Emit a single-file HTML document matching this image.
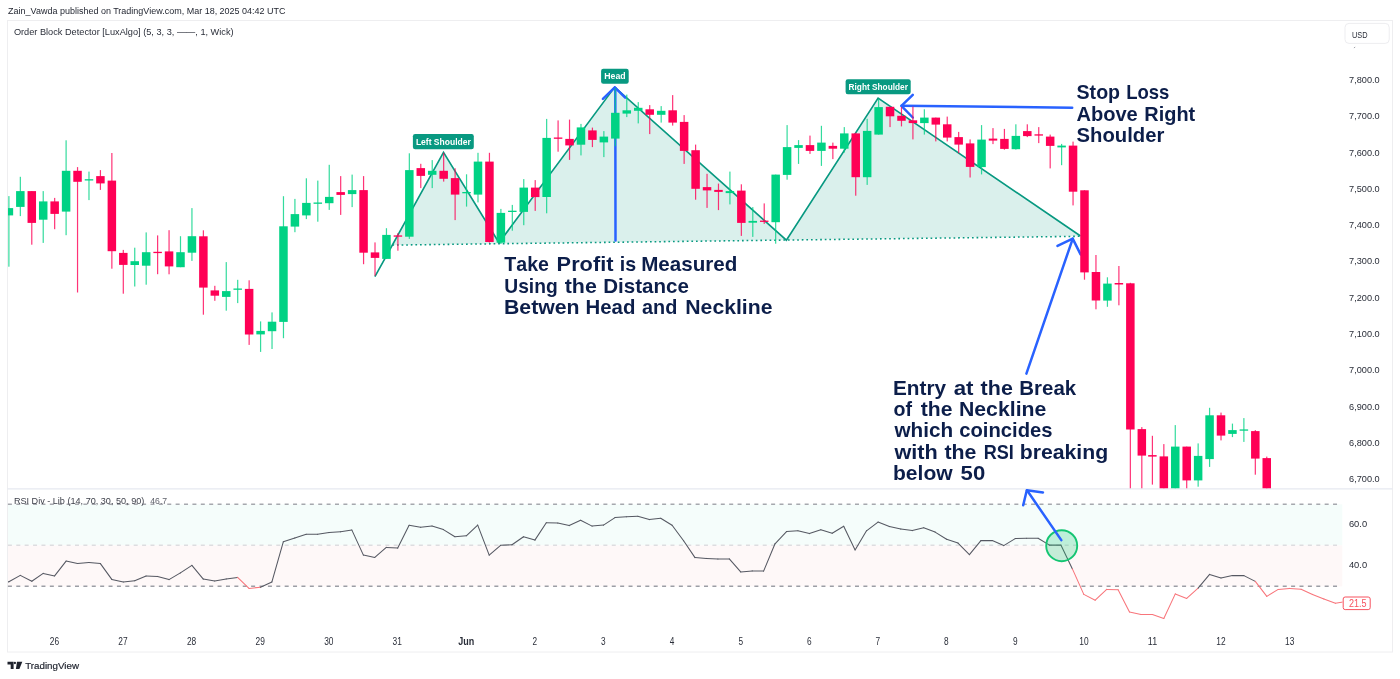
<!DOCTYPE html>
<html><head><meta charset="utf-8"><title>Chart</title>
<style>html,body{margin:0;padding:0;background:#fff;}body{width:1400px;height:679px;overflow:hidden;}svg{display:block;will-change:transform;}text{font-family:"Liberation Sans",sans-serif;}</style>
</head><body>
<svg width="1400" height="679" viewBox="0 0 1400 679">
<rect width="1400" height="679" fill="#fff"/>
<defs><clipPath id="pc"><rect x="8" y="21" width="1384.5" height="467.2"/></clipPath>
<clipPath id="rc"><rect x="8" y="489" width="1334.5" height="150"/></clipPath></defs>
<g fill="none" stroke="#eeeef0" stroke-width="1">
<rect x="7.5" y="20.5" width="1385" height="631.5"/>
<line x1="7.5" y1="488.8" x2="1392.5" y2="488.8" stroke="#e6e9f0" stroke-width="1.3"/>
</g>
<rect x="8" y="504.3" width="1334.3" height="41" fill="#f5fdfb"/>
<rect x="8" y="545.3" width="1334.3" height="41.1" fill="#fef8f8"/>
<g fill="none" stroke-width="1.5" stroke-dasharray="4.0 4.387">
<line x1="7.9" y1="504.2" x2="1338.5" y2="504.2" stroke="#a6a8ae"/>
<line x1="7.9" y1="545.3" x2="1338.5" y2="545.3" stroke="#dddde0"/>
<line x1="7.9" y1="586.3" x2="1338.5" y2="586.3" stroke="#9c9ea5"/>
</g>
<g clip-path="url(#pc)">
<path d="M392.4,245.1 L443.5,152.4 L499.0,242.8 L614.7,87.1 L786.4,240.2 L878.1,98.1 L1080.5,236.0 Z" fill="#089981" fill-opacity="0.15"/>
<polyline points="374.9,276.7 443.5,152.4 499.0,242.8 614.7,87.1 786.4,240.2 878.1,98.1 1080.5,236.0" fill="none" stroke="#089981" stroke-width="1.65" stroke-linejoin="miter"/>
<line x1="392.4" y1="245.1" x2="1080.5" y2="236.3" stroke="#089981" stroke-width="1.55" stroke-dasharray="1.7 2.9"/>
<g fill="none" stroke="#2962ff" stroke-width="2.5" stroke-linecap="round" stroke-linejoin="round">
<path d="M615.5,240.5 L615.3,88"/>
<path d="M602.9,98.8 L614.8,87.3 L625.2,97.6"/>
<path d="M1072.2,107.7 L901.6,105.8"/>
<path d="M912.8,94.9 L901.4,105.8 L912.8,117.5"/>
<path d="M1026.4,373.6 L1072.7,238.8"/>
<path d="M1057.5,245.9 L1072.7,238.6 L1080.6,254.4"/>
</g>
<g>
<rect x="8.30" y="196.1" width="1.2" height="70.6" fill="#00d284" fill-opacity="0.8"/>
<rect x="4.65" y="208.1" width="8.5" height="7.3" fill="#00d284"/>
<rect x="19.74" y="176.8" width="1.2" height="39.3" fill="#00d284" fill-opacity="0.8"/>
<rect x="16.09" y="191.1" width="8.5" height="15.8" fill="#00d284"/>
<rect x="31.18" y="191.1" width="1.2" height="53.6" fill="#ff0055" fill-opacity="0.8"/>
<rect x="27.53" y="191.1" width="8.5" height="31.8" fill="#ff0055"/>
<rect x="42.62" y="191.1" width="1.2" height="51.8" fill="#00d284" fill-opacity="0.8"/>
<rect x="38.97" y="201.4" width="8.5" height="18.3" fill="#00d284"/>
<rect x="54.06" y="197.9" width="1.2" height="31.3" fill="#ff0055" fill-opacity="0.8"/>
<rect x="50.41" y="201.4" width="8.5" height="12.5" fill="#ff0055"/>
<rect x="65.50" y="140.3" width="1.2" height="94.9" fill="#00d284" fill-opacity="0.8"/>
<rect x="61.85" y="170.8" width="8.5" height="40.8" fill="#00d284"/>
<rect x="76.94" y="167.1" width="1.2" height="125.4" fill="#ff0055" fill-opacity="0.8"/>
<rect x="73.29" y="170.8" width="8.5" height="11.0" fill="#ff0055"/>
<rect x="88.38" y="171.6" width="1.2" height="28.5" fill="#00d284" fill-opacity="0.8"/>
<rect x="84.73" y="179.2" width="8.5" height="1.3" fill="#00d284"/>
<rect x="99.82" y="170.1" width="1.2" height="19.8" fill="#ff0055" fill-opacity="0.8"/>
<rect x="96.17" y="176.1" width="8.5" height="7.3" fill="#ff0055"/>
<rect x="111.26" y="153.0" width="1.2" height="115.7" fill="#ff0055" fill-opacity="0.8"/>
<rect x="107.61" y="180.6" width="8.5" height="70.6" fill="#ff0055"/>
<rect x="122.70" y="249.9" width="1.2" height="43.8" fill="#ff0055" fill-opacity="0.8"/>
<rect x="119.05" y="252.9" width="8.5" height="12.0" fill="#ff0055"/>
<rect x="134.14" y="247.7" width="1.2" height="38.8" fill="#00d284" fill-opacity="0.8"/>
<rect x="130.49" y="261.2" width="8.5" height="3.8" fill="#00d284"/>
<rect x="145.58" y="232.4" width="1.2" height="52.3" fill="#00d284" fill-opacity="0.8"/>
<rect x="141.93" y="252.2" width="8.5" height="13.5" fill="#00d284"/>
<rect x="157.02" y="235.4" width="1.2" height="38.8" fill="#ff0055" fill-opacity="0.8"/>
<rect x="153.37" y="251.8" width="8.5" height="1.3" fill="#ff0055"/>
<rect x="168.46" y="230.2" width="1.2" height="44.1" fill="#ff0055" fill-opacity="0.8"/>
<rect x="164.81" y="251.4" width="8.5" height="15.0" fill="#ff0055"/>
<rect x="179.90" y="236.2" width="1.2" height="31.0" fill="#00d284" fill-opacity="0.8"/>
<rect x="176.25" y="252.2" width="8.5" height="15.0" fill="#00d284"/>
<rect x="191.34" y="208.1" width="1.2" height="52.8" fill="#00d284" fill-opacity="0.8"/>
<rect x="187.69" y="236.2" width="8.5" height="16.5" fill="#00d284"/>
<rect x="202.78" y="230.3" width="1.2" height="84.4" fill="#ff0055" fill-opacity="0.8"/>
<rect x="199.13" y="236.3" width="8.5" height="51.3" fill="#ff0055"/>
<rect x="214.22" y="285.8" width="1.2" height="15.0" fill="#ff0055" fill-opacity="0.8"/>
<rect x="210.57" y="290.4" width="8.5" height="5.3" fill="#ff0055"/>
<rect x="225.66" y="262.1" width="1.2" height="48.6" fill="#00d284" fill-opacity="0.8"/>
<rect x="222.01" y="291.1" width="8.5" height="5.8" fill="#00d284"/>
<rect x="237.10" y="279.8" width="1.2" height="23.3" fill="#00d284" fill-opacity="0.8"/>
<rect x="233.45" y="288.5" width="8.5" height="1.3" fill="#00d284"/>
<rect x="248.54" y="280.3" width="1.2" height="64.6" fill="#ff0055" fill-opacity="0.8"/>
<rect x="244.89" y="288.9" width="8.5" height="45.6" fill="#ff0055"/>
<rect x="259.99" y="321.4" width="1.2" height="30.5" fill="#00d284" fill-opacity="0.8"/>
<rect x="256.34" y="330.9" width="8.5" height="3.5" fill="#00d284"/>
<rect x="271.43" y="312.4" width="1.2" height="36.6" fill="#00d284" fill-opacity="0.8"/>
<rect x="267.78" y="321.7" width="8.5" height="9.5" fill="#00d284"/>
<rect x="282.87" y="196.2" width="1.2" height="142.0" fill="#00d284" fill-opacity="0.8"/>
<rect x="279.22" y="226.3" width="8.5" height="95.6" fill="#00d284"/>
<rect x="294.31" y="198.9" width="1.2" height="33.3" fill="#00d284" fill-opacity="0.8"/>
<rect x="290.66" y="214.1" width="8.5" height="12.5" fill="#00d284"/>
<rect x="305.76" y="178.3" width="1.2" height="40.8" fill="#00d284" fill-opacity="0.8"/>
<rect x="302.11" y="202.9" width="8.5" height="12.5" fill="#00d284"/>
<rect x="317.20" y="180.6" width="1.2" height="41.1" fill="#00d284" fill-opacity="0.8"/>
<rect x="313.55" y="202.5" width="8.5" height="1.3" fill="#00d284"/>
<rect x="328.64" y="164.8" width="1.2" height="45.1" fill="#00d284" fill-opacity="0.8"/>
<rect x="324.99" y="196.9" width="8.5" height="6.3" fill="#00d284"/>
<rect x="340.08" y="176.1" width="1.2" height="38.8" fill="#ff0055" fill-opacity="0.8"/>
<rect x="336.43" y="192.1" width="8.5" height="2.8" fill="#ff0055"/>
<rect x="351.53" y="174.6" width="1.2" height="32.5" fill="#00d284" fill-opacity="0.8"/>
<rect x="347.88" y="190.1" width="8.5" height="4.0" fill="#00d284"/>
<rect x="362.97" y="176.1" width="1.2" height="88.1" fill="#ff0055" fill-opacity="0.8"/>
<rect x="359.32" y="190.1" width="8.5" height="62.6" fill="#ff0055"/>
<rect x="374.41" y="242.4" width="1.2" height="33.3" fill="#ff0055" fill-opacity="0.8"/>
<rect x="370.76" y="252.4" width="8.5" height="5.5" fill="#ff0055"/>
<rect x="385.85" y="228.2" width="1.2" height="30.8" fill="#00d284" fill-opacity="0.8"/>
<rect x="382.20" y="234.9" width="8.5" height="24.0" fill="#00d284"/>
<rect x="397.30" y="233.2" width="1.2" height="17.5" fill="#ff0055" fill-opacity="0.8"/>
<rect x="393.65" y="235.4" width="8.5" height="1.3" fill="#ff0055"/>
<rect x="408.74" y="153.3" width="1.2" height="85.6" fill="#00d284" fill-opacity="0.8"/>
<rect x="405.09" y="170.1" width="8.5" height="66.6" fill="#00d284"/>
<rect x="420.18" y="163.8" width="1.2" height="24.3" fill="#ff0055" fill-opacity="0.8"/>
<rect x="416.53" y="168.1" width="8.5" height="7.8" fill="#ff0055"/>
<rect x="431.62" y="160.1" width="1.2" height="28.0" fill="#00d284" fill-opacity="0.8"/>
<rect x="427.97" y="170.8" width="8.5" height="4.0" fill="#00d284"/>
<rect x="443.07" y="152.8" width="1.2" height="28.8" fill="#ff0055" fill-opacity="0.8"/>
<rect x="439.42" y="170.8" width="8.5" height="8.0" fill="#ff0055"/>
<rect x="454.51" y="168.3" width="1.2" height="51.8" fill="#ff0055" fill-opacity="0.8"/>
<rect x="450.86" y="178.1" width="8.5" height="16.5" fill="#ff0055"/>
<rect x="465.95" y="174.3" width="1.2" height="32.3" fill="#00d284" fill-opacity="0.8"/>
<rect x="462.30" y="192.0" width="8.5" height="1.3" fill="#00d284"/>
<rect x="477.39" y="152.8" width="1.2" height="49.6" fill="#00d284" fill-opacity="0.8"/>
<rect x="473.74" y="161.6" width="8.5" height="33.0" fill="#00d284"/>
<rect x="488.84" y="152.8" width="1.2" height="89.9" fill="#ff0055" fill-opacity="0.8"/>
<rect x="485.19" y="161.6" width="8.5" height="80.4" fill="#ff0055"/>
<rect x="500.28" y="208.9" width="1.2" height="35.1" fill="#00d284" fill-opacity="0.8"/>
<rect x="496.63" y="212.9" width="8.5" height="29.8" fill="#00d284"/>
<rect x="511.72" y="204.9" width="1.2" height="25.8" fill="#00d284" fill-opacity="0.8"/>
<rect x="508.07" y="210.7" width="8.5" height="1.3" fill="#00d284"/>
<rect x="523.16" y="179.1" width="1.2" height="46.1" fill="#00d284" fill-opacity="0.8"/>
<rect x="519.51" y="187.6" width="8.5" height="24.3" fill="#00d284"/>
<rect x="534.61" y="180.1" width="1.2" height="30.8" fill="#ff0055" fill-opacity="0.8"/>
<rect x="530.96" y="187.6" width="8.5" height="9.5" fill="#ff0055"/>
<rect x="546.05" y="118.9" width="1.2" height="94.4" fill="#00d284" fill-opacity="0.8"/>
<rect x="542.40" y="137.9" width="8.5" height="59.1" fill="#00d284"/>
<rect x="557.49" y="120.4" width="1.2" height="31.3" fill="#ff0055" fill-opacity="0.8"/>
<rect x="553.84" y="137.5" width="8.5" height="1.3" fill="#ff0055"/>
<rect x="568.93" y="119.6" width="1.2" height="40.3" fill="#ff0055" fill-opacity="0.8"/>
<rect x="565.28" y="138.9" width="8.5" height="6.5" fill="#ff0055"/>
<rect x="580.38" y="123.9" width="1.2" height="31.5" fill="#00d284" fill-opacity="0.8"/>
<rect x="576.73" y="127.4" width="8.5" height="17.3" fill="#00d284"/>
<rect x="591.82" y="127.6" width="1.2" height="19.5" fill="#ff0055" fill-opacity="0.8"/>
<rect x="588.17" y="130.4" width="8.5" height="9.5" fill="#ff0055"/>
<rect x="603.26" y="131.1" width="1.2" height="26.0" fill="#00d284" fill-opacity="0.8"/>
<rect x="599.61" y="136.6" width="8.5" height="5.8" fill="#00d284"/>
<rect x="614.71" y="88.1" width="1.2" height="58.1" fill="#00d284" fill-opacity="0.8"/>
<rect x="611.06" y="112.8" width="8.5" height="25.8" fill="#00d284"/>
<rect x="626.18" y="94.6" width="1.2" height="22.5" fill="#00d284" fill-opacity="0.8"/>
<rect x="622.53" y="110.3" width="8.5" height="3.3" fill="#00d284"/>
<rect x="637.65" y="102.1" width="1.2" height="21.3" fill="#00d284" fill-opacity="0.8"/>
<rect x="634.00" y="107.8" width="8.5" height="3.0" fill="#00d284"/>
<rect x="649.12" y="105.1" width="1.2" height="29.0" fill="#ff0055" fill-opacity="0.8"/>
<rect x="645.47" y="109.3" width="8.5" height="5.5" fill="#ff0055"/>
<rect x="660.59" y="106.1" width="1.2" height="16.5" fill="#00d284" fill-opacity="0.8"/>
<rect x="656.94" y="110.8" width="8.5" height="4.0" fill="#00d284"/>
<rect x="672.06" y="95.1" width="1.2" height="30.5" fill="#ff0055" fill-opacity="0.8"/>
<rect x="668.41" y="110.3" width="8.5" height="12.3" fill="#ff0055"/>
<rect x="683.53" y="115.1" width="1.2" height="48.8" fill="#ff0055" fill-opacity="0.8"/>
<rect x="679.88" y="121.9" width="8.5" height="29.0" fill="#ff0055"/>
<rect x="695.00" y="144.6" width="1.2" height="55.1" fill="#ff0055" fill-opacity="0.8"/>
<rect x="691.35" y="150.2" width="8.5" height="38.6" fill="#ff0055"/>
<rect x="706.44" y="173.8" width="1.2" height="34.1" fill="#ff0055" fill-opacity="0.8"/>
<rect x="702.79" y="187.1" width="8.5" height="3.3" fill="#ff0055"/>
<rect x="717.88" y="183.6" width="1.2" height="26.5" fill="#ff0055" fill-opacity="0.8"/>
<rect x="714.23" y="189.9" width="8.5" height="2.0" fill="#ff0055"/>
<rect x="729.31" y="171.6" width="1.2" height="32.8" fill="#00d284" fill-opacity="0.8"/>
<rect x="725.66" y="191.1" width="8.5" height="2.0" fill="#00d284"/>
<rect x="740.75" y="184.3" width="1.2" height="51.6" fill="#ff0055" fill-opacity="0.8"/>
<rect x="737.10" y="190.6" width="8.5" height="32.3" fill="#ff0055"/>
<rect x="752.19" y="207.1" width="1.2" height="29.8" fill="#00d284" fill-opacity="0.8"/>
<rect x="748.54" y="220.9" width="8.5" height="1.8" fill="#00d284"/>
<rect x="763.63" y="203.4" width="1.2" height="20.5" fill="#ff0055" fill-opacity="0.8"/>
<rect x="759.98" y="220.6" width="8.5" height="1.3" fill="#ff0055"/>
<rect x="775.07" y="174.6" width="1.2" height="69.1" fill="#00d284" fill-opacity="0.8"/>
<rect x="771.42" y="174.6" width="8.5" height="47.6" fill="#00d284"/>
<rect x="786.50" y="125.1" width="1.2" height="54.6" fill="#00d284" fill-opacity="0.8"/>
<rect x="782.85" y="147.1" width="8.5" height="27.8" fill="#00d284"/>
<rect x="797.94" y="140.1" width="1.2" height="23.8" fill="#00d284" fill-opacity="0.8"/>
<rect x="794.29" y="145.1" width="8.5" height="2.8" fill="#00d284"/>
<rect x="809.38" y="135.6" width="1.2" height="18.3" fill="#ff0055" fill-opacity="0.8"/>
<rect x="805.73" y="145.1" width="8.5" height="5.8" fill="#ff0055"/>
<rect x="820.82" y="125.8" width="1.2" height="40.1" fill="#00d284" fill-opacity="0.8"/>
<rect x="817.17" y="142.6" width="8.5" height="8.3" fill="#00d284"/>
<rect x="832.26" y="142.6" width="1.2" height="16.5" fill="#ff0055" fill-opacity="0.8"/>
<rect x="828.61" y="145.9" width="8.5" height="2.8" fill="#ff0055"/>
<rect x="843.69" y="127.1" width="1.2" height="25.5" fill="#00d284" fill-opacity="0.8"/>
<rect x="840.04" y="133.4" width="8.5" height="15.3" fill="#00d284"/>
<rect x="855.13" y="132.6" width="1.2" height="63.1" fill="#ff0055" fill-opacity="0.8"/>
<rect x="851.48" y="133.4" width="8.5" height="43.8" fill="#ff0055"/>
<rect x="866.57" y="118.8" width="1.2" height="66.1" fill="#00d284" fill-opacity="0.8"/>
<rect x="862.92" y="130.9" width="8.5" height="46.3" fill="#00d284"/>
<rect x="878.01" y="98.8" width="1.2" height="35.8" fill="#00d284" fill-opacity="0.8"/>
<rect x="874.36" y="107.1" width="8.5" height="27.5" fill="#00d284"/>
<rect x="889.44" y="106.8" width="1.2" height="20.3" fill="#ff0055" fill-opacity="0.8"/>
<rect x="885.79" y="106.8" width="8.5" height="9.5" fill="#ff0055"/>
<rect x="900.88" y="107.1" width="1.2" height="19.3" fill="#ff0055" fill-opacity="0.8"/>
<rect x="897.23" y="115.8" width="8.5" height="5.0" fill="#ff0055"/>
<rect x="912.32" y="106.6" width="1.2" height="32.8" fill="#ff0055" fill-opacity="0.8"/>
<rect x="908.67" y="120.3" width="8.5" height="2.8" fill="#ff0055"/>
<rect x="923.76" y="109.3" width="1.2" height="25.3" fill="#00d284" fill-opacity="0.8"/>
<rect x="920.11" y="117.6" width="8.5" height="5.5" fill="#00d284"/>
<rect x="935.20" y="117.6" width="1.2" height="23.8" fill="#ff0055" fill-opacity="0.8"/>
<rect x="931.55" y="117.6" width="8.5" height="7.0" fill="#ff0055"/>
<rect x="946.63" y="116.6" width="1.2" height="24.8" fill="#ff0055" fill-opacity="0.8"/>
<rect x="942.98" y="124.3" width="8.5" height="13.3" fill="#ff0055"/>
<rect x="958.07" y="131.9" width="1.2" height="21.3" fill="#ff0055" fill-opacity="0.8"/>
<rect x="954.42" y="137.1" width="8.5" height="7.5" fill="#ff0055"/>
<rect x="969.51" y="139.4" width="1.2" height="38.1" fill="#ff0055" fill-opacity="0.8"/>
<rect x="965.86" y="143.4" width="8.5" height="23.5" fill="#ff0055"/>
<rect x="980.95" y="125.1" width="1.2" height="49.3" fill="#00d284" fill-opacity="0.8"/>
<rect x="977.30" y="139.6" width="8.5" height="27.5" fill="#00d284"/>
<rect x="992.39" y="128.1" width="1.2" height="16.0" fill="#ff0055" fill-opacity="0.8"/>
<rect x="988.74" y="138.6" width="8.5" height="2.0" fill="#ff0055"/>
<rect x="1003.82" y="128.9" width="1.2" height="20.8" fill="#ff0055" fill-opacity="0.8"/>
<rect x="1000.17" y="138.9" width="8.5" height="10.0" fill="#ff0055"/>
<rect x="1015.26" y="124.3" width="1.2" height="25.3" fill="#00d284" fill-opacity="0.8"/>
<rect x="1011.61" y="135.9" width="8.5" height="13.3" fill="#00d284"/>
<rect x="1026.70" y="124.3" width="1.2" height="12.8" fill="#ff0055" fill-opacity="0.8"/>
<rect x="1023.05" y="131.1" width="8.5" height="5.0" fill="#ff0055"/>
<rect x="1038.14" y="127.1" width="1.2" height="16.0" fill="#ff0055" fill-opacity="0.8"/>
<rect x="1034.49" y="134.3" width="8.5" height="1.3" fill="#ff0055"/>
<rect x="1049.58" y="134.6" width="1.2" height="33.8" fill="#ff0055" fill-opacity="0.8"/>
<rect x="1045.93" y="136.6" width="8.5" height="9.3" fill="#ff0055"/>
<rect x="1061.01" y="143.9" width="1.2" height="21.3" fill="#00d284" fill-opacity="0.8"/>
<rect x="1057.36" y="145.6" width="8.5" height="1.8" fill="#00d284"/>
<rect x="1072.45" y="141.6" width="1.2" height="63.8" fill="#ff0055" fill-opacity="0.8"/>
<rect x="1068.80" y="145.6" width="8.5" height="46.1" fill="#ff0055"/>
<rect x="1083.89" y="190.3" width="1.2" height="89.4" fill="#ff0055" fill-opacity="0.8"/>
<rect x="1080.24" y="190.3" width="8.5" height="82.1" fill="#ff0055"/>
<rect x="1095.36" y="255.0" width="1.2" height="54.3" fill="#ff0055" fill-opacity="0.8"/>
<rect x="1091.71" y="272.0" width="8.5" height="28.5" fill="#ff0055"/>
<rect x="1106.82" y="277.3" width="1.2" height="29.5" fill="#00d284" fill-opacity="0.8"/>
<rect x="1103.17" y="283.6" width="8.5" height="17.0" fill="#00d284"/>
<rect x="1118.29" y="266.0" width="1.2" height="39.3" fill="#ff0055" fill-opacity="0.8"/>
<rect x="1114.63" y="283.0" width="8.5" height="1.5" fill="#ff0055"/>
<rect x="1129.75" y="282.8" width="1.2" height="207.6" fill="#ff0055" fill-opacity="0.8"/>
<rect x="1126.10" y="283.3" width="8.5" height="146.2" fill="#ff0055"/>
<rect x="1141.22" y="427.1" width="1.2" height="63.1" fill="#ff0055" fill-opacity="0.8"/>
<rect x="1137.57" y="429.1" width="8.5" height="26.5" fill="#ff0055"/>
<rect x="1151.80" y="435.8" width="1.2" height="48.8" fill="#ff0055" fill-opacity="0.8"/>
<rect x="1148.15" y="455.1" width="8.5" height="1.5" fill="#ff0055"/>
<rect x="1163.24" y="444.1" width="1.2" height="46.1" fill="#ff0055" fill-opacity="0.8"/>
<rect x="1159.59" y="456.4" width="8.5" height="33.8" fill="#ff0055"/>
<rect x="1174.67" y="425.1" width="1.2" height="65.1" fill="#00d284" fill-opacity="0.8"/>
<rect x="1171.02" y="446.6" width="8.5" height="43.6" fill="#00d284"/>
<rect x="1186.11" y="446.6" width="1.2" height="43.6" fill="#ff0055" fill-opacity="0.8"/>
<rect x="1182.46" y="446.6" width="8.5" height="33.8" fill="#ff0055"/>
<rect x="1197.54" y="443.4" width="1.2" height="43.3" fill="#00d284" fill-opacity="0.8"/>
<rect x="1193.89" y="455.9" width="8.5" height="24.5" fill="#00d284"/>
<rect x="1208.98" y="407.8" width="1.2" height="59.1" fill="#00d284" fill-opacity="0.8"/>
<rect x="1205.33" y="415.3" width="8.5" height="43.8" fill="#00d284"/>
<rect x="1220.41" y="412.6" width="1.2" height="27.8" fill="#ff0055" fill-opacity="0.8"/>
<rect x="1216.76" y="415.3" width="8.5" height="20.3" fill="#ff0055"/>
<rect x="1231.85" y="423.6" width="1.2" height="13.5" fill="#00d284" fill-opacity="0.8"/>
<rect x="1228.20" y="430.1" width="8.5" height="3.8" fill="#00d284"/>
<rect x="1243.28" y="418.1" width="1.2" height="23.8" fill="#00d284" fill-opacity="0.8"/>
<rect x="1239.63" y="429.4" width="8.5" height="1.3" fill="#00d284"/>
<rect x="1254.72" y="430.1" width="1.2" height="44.6" fill="#ff0055" fill-opacity="0.8"/>
<rect x="1251.07" y="431.1" width="8.5" height="27.5" fill="#ff0055"/>
<rect x="1266.15" y="456.6" width="1.2" height="33.6" fill="#ff0055" fill-opacity="0.8"/>
<rect x="1262.50" y="458.1" width="8.5" height="32.0" fill="#ff0055"/>
</g>
</g>
<rect x="412.9" y="134.1" width="60.9" height="15.1" rx="2.2" fill="#089981"/>
<text x="415.9" y="144.9" font-size="9.8" font-weight="700" fill="#fff" textLength="54.9" lengthAdjust="spacingAndGlyphs">Left Shoulder</text>
<rect x="601.1" y="68.8" width="27.6" height="14.9" rx="2.2" fill="#089981"/>
<text x="604.3" y="78.6" font-size="9.8" font-weight="700" fill="#fff" textLength="21.4" lengthAdjust="spacingAndGlyphs">Head</text>
<rect x="845.6" y="79.3" width="65.1" height="14.9" rx="2.2" fill="#089981"/>
<text x="848.6" y="90.0" font-size="9.8" font-weight="700" fill="#fff" textLength="59.3" lengthAdjust="spacingAndGlyphs">Right Shoulder</text>
<text x="504.38" y="271.3" font-size="19.3" font-weight="700" fill="#0c1e4a" style="font-kerning:none" textLength="44.59" lengthAdjust="spacingAndGlyphs">Take</text>
<text x="556.64" y="271.3" font-size="19.3" font-weight="700" fill="#0c1e4a" style="font-kerning:none" textLength="56.82" lengthAdjust="spacingAndGlyphs">Profit</text>
<text x="619.73" y="271.3" font-size="19.3" font-weight="700" fill="#0c1e4a" style="font-kerning:none" textLength="16.38" lengthAdjust="spacingAndGlyphs">is</text>
<text x="641.22" y="271.3" font-size="19.3" font-weight="700" fill="#0c1e4a" style="font-kerning:none" textLength="96.13" lengthAdjust="spacingAndGlyphs">Measured</text>
<text x="504.24" y="292.8" font-size="19.3" font-weight="700" fill="#0c1e4a" style="font-kerning:none" textLength="53.44" lengthAdjust="spacingAndGlyphs">Using</text>
<text x="564.74" y="292.8" font-size="19.3" font-weight="700" fill="#0c1e4a" style="font-kerning:none" textLength="32.09" lengthAdjust="spacingAndGlyphs">the</text>
<text x="603.23" y="292.8" font-size="19.3" font-weight="700" fill="#0c1e4a" style="font-kerning:none" textLength="85.68" lengthAdjust="spacingAndGlyphs">Distance</text>
<text x="503.98" y="314.2" font-size="19.3" font-weight="700" fill="#0c1e4a" style="font-kerning:none" textLength="75.64" lengthAdjust="spacingAndGlyphs">Betwen</text>
<text x="585.54" y="314.2" font-size="19.3" font-weight="700" fill="#0c1e4a" style="font-kerning:none" textLength="49.81" lengthAdjust="spacingAndGlyphs">Head</text>
<text x="642.02" y="314.2" font-size="19.3" font-weight="700" fill="#0c1e4a" style="font-kerning:none" textLength="35.29" lengthAdjust="spacingAndGlyphs">and</text>
<text x="685.28" y="314.2" font-size="19.3" font-weight="700" fill="#0c1e4a" style="font-kerning:none" textLength="87.24" lengthAdjust="spacingAndGlyphs">Neckline</text>
<text x="1076.54" y="99.2" font-size="19.3" font-weight="700" fill="#0c1e4a" style="font-kerning:none" textLength="43.57" lengthAdjust="spacingAndGlyphs">Stop</text>
<text x="1126.16" y="99.2" font-size="19.3" font-weight="700" fill="#0c1e4a" style="font-kerning:none" textLength="43.20" lengthAdjust="spacingAndGlyphs">Loss</text>
<text x="1076.40" y="120.6" font-size="19.3" font-weight="700" fill="#0c1e4a" style="font-kerning:none" textLength="61.39" lengthAdjust="spacingAndGlyphs">Above</text>
<text x="1144.37" y="120.6" font-size="19.3" font-weight="700" fill="#0c1e4a" style="font-kerning:none" textLength="50.88" lengthAdjust="spacingAndGlyphs">Right</text>
<text x="1076.52" y="141.8" font-size="19.3" font-weight="700" fill="#0c1e4a" style="font-kerning:none" textLength="87.79" lengthAdjust="spacingAndGlyphs">Shoulder</text>
<text x="893.01" y="394.7" font-size="19.3" font-weight="700" fill="#0c1e4a" style="font-kerning:none" textLength="53.10" lengthAdjust="spacingAndGlyphs">Entry</text>
<text x="953.65" y="394.7" font-size="19.3" font-weight="700" fill="#0c1e4a" style="font-kerning:none" textLength="19.83" lengthAdjust="spacingAndGlyphs">at</text>
<text x="980.64" y="394.7" font-size="19.3" font-weight="700" fill="#0c1e4a" style="font-kerning:none" textLength="32.20" lengthAdjust="spacingAndGlyphs">the</text>
<text x="1019.33" y="394.7" font-size="19.3" font-weight="700" fill="#0c1e4a" style="font-kerning:none" textLength="56.85" lengthAdjust="spacingAndGlyphs">Break</text>
<text x="893.63" y="416.0" font-size="19.3" font-weight="700" fill="#0c1e4a" style="font-kerning:none" textLength="18.53" lengthAdjust="spacingAndGlyphs">of</text>
<text x="920.84" y="416.0" font-size="19.3" font-weight="700" fill="#0c1e4a" style="font-kerning:none" textLength="31.68" lengthAdjust="spacingAndGlyphs">the</text>
<text x="958.98" y="416.0" font-size="19.3" font-weight="700" fill="#0c1e4a" style="font-kerning:none" textLength="87.35" lengthAdjust="spacingAndGlyphs">Neckline</text>
<text x="894.46" y="437.2" font-size="19.3" font-weight="700" fill="#0c1e4a" style="font-kerning:none" textLength="58.62" lengthAdjust="spacingAndGlyphs">which</text>
<text x="959.21" y="437.2" font-size="19.3" font-weight="700" fill="#0c1e4a" style="font-kerning:none" textLength="93.32" lengthAdjust="spacingAndGlyphs">coincides</text>
<text x="894.46" y="458.5" font-size="19.3" font-weight="700" fill="#0c1e4a" style="font-kerning:none" textLength="43.38" lengthAdjust="spacingAndGlyphs">with</text>
<text x="944.44" y="458.5" font-size="19.3" font-weight="700" fill="#0c1e4a" style="font-kerning:none" textLength="31.99" lengthAdjust="spacingAndGlyphs">the</text>
<text x="983.69" y="458.5" font-size="19.3" font-weight="700" fill="#0c1e4a" style="font-kerning:none" textLength="30.12" lengthAdjust="spacingAndGlyphs">RSI</text>
<text x="1019.70" y="458.5" font-size="19.3" font-weight="700" fill="#0c1e4a" style="font-kerning:none" textLength="88.52" lengthAdjust="spacingAndGlyphs">breaking</text>
<text x="893.01" y="479.7" font-size="19.3" font-weight="700" fill="#0c1e4a" style="font-kerning:none" textLength="59.65" lengthAdjust="spacingAndGlyphs">below</text>
<text x="960.62" y="479.7" font-size="19.3" font-weight="700" fill="#0c1e4a" style="font-kerning:none" textLength="24.59" lengthAdjust="spacingAndGlyphs">50</text>
<g clip-path="url(#rc)" fill="none" stroke-width="1.05" stroke-linecap="round">
<line x1="-2.5" y1="586.0" x2="8.9" y2="581.7" stroke="#555862"/>
<line x1="8.9" y1="581.7" x2="20.3" y2="575.4" stroke="#555862"/>
<line x1="20.3" y1="575.4" x2="31.8" y2="581.2" stroke="#555862"/>
<line x1="31.8" y1="581.2" x2="43.2" y2="573.4" stroke="#555862"/>
<line x1="43.2" y1="573.4" x2="54.6" y2="575.9" stroke="#555862"/>
<line x1="54.6" y1="575.9" x2="66.1" y2="561.1" stroke="#555862"/>
<line x1="66.1" y1="561.1" x2="77.5" y2="563.4" stroke="#555862"/>
<line x1="77.5" y1="563.4" x2="88.9" y2="562.6" stroke="#555862"/>
<line x1="88.9" y1="562.6" x2="100.4" y2="563.6" stroke="#555862"/>
<line x1="100.4" y1="563.6" x2="111.8" y2="579.4" stroke="#555862"/>
<line x1="111.8" y1="579.4" x2="123.3" y2="581.9" stroke="#555862"/>
<line x1="123.3" y1="581.9" x2="134.7" y2="580.7" stroke="#555862"/>
<line x1="134.7" y1="580.7" x2="146.1" y2="576.1" stroke="#555862"/>
<line x1="146.1" y1="576.1" x2="157.6" y2="576.4" stroke="#555862"/>
<line x1="157.6" y1="576.4" x2="169.0" y2="579.6" stroke="#555862"/>
<line x1="169.0" y1="579.6" x2="180.4" y2="572.9" stroke="#555862"/>
<line x1="180.4" y1="572.9" x2="191.9" y2="565.4" stroke="#555862"/>
<line x1="191.9" y1="565.4" x2="203.3" y2="579.1" stroke="#555862"/>
<line x1="203.3" y1="579.1" x2="214.7" y2="580.9" stroke="#555862"/>
<line x1="214.7" y1="580.9" x2="226.2" y2="578.9" stroke="#555862"/>
<line x1="226.2" y1="578.9" x2="237.6" y2="577.4" stroke="#555862"/>
<line x1="237.6" y1="577.4" x2="249.0" y2="588.4" stroke="#f8757b"/>
<line x1="249.0" y1="588.4" x2="260.5" y2="587.2" stroke="#f8757b"/>
<line x1="260.5" y1="587.2" x2="271.9" y2="581.9" stroke="#555862"/>
<line x1="271.9" y1="581.9" x2="283.3" y2="541.8" stroke="#555862"/>
<line x1="283.3" y1="541.8" x2="294.8" y2="538.1" stroke="#555862"/>
<line x1="294.8" y1="538.1" x2="306.2" y2="534.3" stroke="#555862"/>
<line x1="306.2" y1="534.3" x2="317.6" y2="534.3" stroke="#555862"/>
<line x1="317.6" y1="534.3" x2="329.1" y2="532.6" stroke="#555862"/>
<line x1="329.1" y1="532.6" x2="340.5" y2="531.8" stroke="#555862"/>
<line x1="340.5" y1="531.8" x2="351.9" y2="530.1" stroke="#555862"/>
<line x1="351.9" y1="530.1" x2="363.4" y2="555.1" stroke="#555862"/>
<line x1="363.4" y1="555.1" x2="374.8" y2="557.4" stroke="#555862"/>
<line x1="374.8" y1="557.4" x2="386.3" y2="547.4" stroke="#555862"/>
<line x1="386.3" y1="547.4" x2="397.7" y2="548.1" stroke="#555862"/>
<line x1="397.7" y1="548.1" x2="409.1" y2="525.3" stroke="#555862"/>
<line x1="409.1" y1="525.3" x2="420.6" y2="527.3" stroke="#555862"/>
<line x1="420.6" y1="527.3" x2="432.0" y2="526.1" stroke="#555862"/>
<line x1="432.0" y1="526.1" x2="443.4" y2="529.6" stroke="#555862"/>
<line x1="443.4" y1="529.6" x2="454.9" y2="536.8" stroke="#555862"/>
<line x1="454.9" y1="536.8" x2="466.3" y2="535.8" stroke="#555862"/>
<line x1="466.3" y1="535.8" x2="477.7" y2="525.1" stroke="#555862"/>
<line x1="477.7" y1="525.1" x2="489.2" y2="555.1" stroke="#555862"/>
<line x1="489.2" y1="555.1" x2="500.6" y2="545.3" stroke="#555862"/>
<line x1="500.6" y1="545.3" x2="512.0" y2="544.8" stroke="#555862"/>
<line x1="512.0" y1="544.8" x2="523.5" y2="536.8" stroke="#555862"/>
<line x1="523.5" y1="536.8" x2="534.9" y2="540.1" stroke="#555862"/>
<line x1="534.9" y1="540.1" x2="546.3" y2="522.8" stroke="#555862"/>
<line x1="546.3" y1="522.8" x2="557.8" y2="523.1" stroke="#555862"/>
<line x1="557.8" y1="523.1" x2="569.2" y2="525.6" stroke="#555862"/>
<line x1="569.2" y1="525.6" x2="580.6" y2="520.3" stroke="#555862"/>
<line x1="580.6" y1="520.3" x2="592.1" y2="526.1" stroke="#555862"/>
<line x1="592.1" y1="526.1" x2="603.5" y2="525.1" stroke="#555862"/>
<line x1="603.5" y1="525.1" x2="615.0" y2="517.6" stroke="#555862"/>
<line x1="615.0" y1="517.6" x2="626.4" y2="516.8" stroke="#555862"/>
<line x1="626.4" y1="516.8" x2="637.8" y2="516.3" stroke="#555862"/>
<line x1="637.8" y1="516.3" x2="649.3" y2="519.6" stroke="#555862"/>
<line x1="649.3" y1="519.6" x2="660.7" y2="518.3" stroke="#555862"/>
<line x1="660.7" y1="518.3" x2="672.1" y2="525.3" stroke="#555862"/>
<line x1="672.1" y1="525.3" x2="683.6" y2="540.8" stroke="#555862"/>
<line x1="683.6" y1="540.8" x2="695.0" y2="557.6" stroke="#555862"/>
<line x1="695.0" y1="557.6" x2="706.4" y2="558.4" stroke="#555862"/>
<line x1="706.4" y1="558.4" x2="717.9" y2="558.9" stroke="#555862"/>
<line x1="717.9" y1="558.9" x2="729.3" y2="558.9" stroke="#555862"/>
<line x1="729.3" y1="558.9" x2="740.7" y2="571.9" stroke="#555862"/>
<line x1="740.7" y1="571.9" x2="752.2" y2="570.9" stroke="#555862"/>
<line x1="752.2" y1="570.9" x2="763.6" y2="571.1" stroke="#555862"/>
<line x1="763.6" y1="571.1" x2="775.0" y2="543.8" stroke="#555862"/>
<line x1="775.0" y1="543.8" x2="786.5" y2="531.6" stroke="#555862"/>
<line x1="786.5" y1="531.6" x2="797.9" y2="530.8" stroke="#555862"/>
<line x1="797.9" y1="530.8" x2="809.4" y2="533.6" stroke="#555862"/>
<line x1="809.4" y1="533.6" x2="820.8" y2="529.8" stroke="#555862"/>
<line x1="820.8" y1="529.8" x2="832.2" y2="533.3" stroke="#555862"/>
<line x1="832.2" y1="533.3" x2="843.7" y2="526.3" stroke="#555862"/>
<line x1="843.7" y1="526.3" x2="855.1" y2="549.9" stroke="#555862"/>
<line x1="855.1" y1="549.9" x2="866.5" y2="530.8" stroke="#555862"/>
<line x1="866.5" y1="530.8" x2="878.0" y2="522.1" stroke="#555862"/>
<line x1="878.0" y1="522.1" x2="889.4" y2="526.6" stroke="#555862"/>
<line x1="889.4" y1="526.6" x2="900.8" y2="529.1" stroke="#555862"/>
<line x1="900.8" y1="529.1" x2="912.3" y2="530.6" stroke="#555862"/>
<line x1="912.3" y1="530.6" x2="923.7" y2="527.8" stroke="#555862"/>
<line x1="923.7" y1="527.8" x2="935.1" y2="532.1" stroke="#555862"/>
<line x1="935.1" y1="532.1" x2="946.6" y2="539.3" stroke="#555862"/>
<line x1="946.6" y1="539.3" x2="958.0" y2="543.1" stroke="#555862"/>
<line x1="958.0" y1="543.1" x2="969.4" y2="554.6" stroke="#555862"/>
<line x1="969.4" y1="554.6" x2="980.9" y2="540.6" stroke="#555862"/>
<line x1="980.9" y1="540.6" x2="992.3" y2="540.6" stroke="#555862"/>
<line x1="992.3" y1="540.6" x2="1003.7" y2="545.6" stroke="#555862"/>
<line x1="1003.7" y1="545.6" x2="1015.2" y2="538.6" stroke="#555862"/>
<line x1="1015.2" y1="538.6" x2="1026.6" y2="538.3" stroke="#555862"/>
<line x1="1026.6" y1="538.3" x2="1038.1" y2="538.3" stroke="#555862"/>
<line x1="1038.1" y1="538.3" x2="1049.5" y2="545.1" stroke="#555862"/>
<line x1="1049.5" y1="545.1" x2="1060.9" y2="545.1" stroke="#555862"/>
<line x1="1060.9" y1="545.1" x2="1072.4" y2="568.9" stroke="#555862"/>
<line x1="1072.4" y1="568.9" x2="1083.8" y2="594.4" stroke="#f8757b"/>
<line x1="1083.8" y1="594.4" x2="1095.2" y2="600.2" stroke="#f8757b"/>
<line x1="1095.2" y1="600.2" x2="1106.7" y2="589.4" stroke="#f8757b"/>
<line x1="1106.7" y1="589.4" x2="1118.1" y2="589.7" stroke="#f8757b"/>
<line x1="1118.1" y1="589.7" x2="1129.5" y2="611.9" stroke="#f8757b"/>
<line x1="1129.5" y1="611.9" x2="1141.0" y2="614.5" stroke="#f8757b"/>
<line x1="1141.0" y1="614.5" x2="1152.4" y2="614.5" stroke="#f8757b"/>
<line x1="1152.4" y1="614.5" x2="1163.8" y2="618.5" stroke="#f8757b"/>
<line x1="1163.8" y1="618.5" x2="1175.3" y2="593.9" stroke="#f8757b"/>
<line x1="1175.3" y1="593.9" x2="1186.7" y2="598.4" stroke="#f8757b"/>
<line x1="1186.7" y1="598.4" x2="1198.1" y2="588.2" stroke="#f8757b"/>
<line x1="1198.1" y1="588.2" x2="1209.6" y2="574.4" stroke="#555862"/>
<line x1="1209.6" y1="574.4" x2="1221.0" y2="577.9" stroke="#555862"/>
<line x1="1221.0" y1="577.9" x2="1232.4" y2="575.6" stroke="#555862"/>
<line x1="1232.4" y1="575.6" x2="1243.9" y2="575.6" stroke="#555862"/>
<line x1="1243.9" y1="575.6" x2="1255.3" y2="581.4" stroke="#555862"/>
<line x1="1255.3" y1="581.4" x2="1266.8" y2="596.4" stroke="#f8757b"/>
<line x1="1266.8" y1="596.4" x2="1278.2" y2="589.4" stroke="#f8757b"/>
<line x1="1278.2" y1="589.4" x2="1289.6" y2="588.4" stroke="#f8757b"/>
<line x1="1289.6" y1="588.4" x2="1301.1" y2="589.2" stroke="#f8757b"/>
<line x1="1301.1" y1="589.2" x2="1312.5" y2="594.4" stroke="#f8757b"/>
<line x1="1312.5" y1="594.4" x2="1323.9" y2="598.9" stroke="#f8757b"/>
<line x1="1323.9" y1="598.9" x2="1335.4" y2="603.2" stroke="#f8757b"/>
<line x1="1335.4" y1="603.2" x2="1346.8" y2="601.3" stroke="#f8757b"/>
</g>
<circle cx="1061.7" cy="545.7" r="15.5" fill="#16c774" fill-opacity="0.25" stroke="#14c572" stroke-width="1.9"/>
<g fill="none" stroke="#2962ff" stroke-width="2.5" stroke-linecap="round" stroke-linejoin="round">
<path d="M1061.3,540.1 L1027.0,490.3"/>
<path d="M1023.2,505.3 L1026.8,490.2 L1043.0,492.4"/>
</g>
<rect x="1343.2" y="597" width="27" height="12.6" rx="2" fill="#fff" stroke="#f7525f" stroke-width="1"/>
<text x="1348.9" y="607" font-size="10" fill="#f7525f" textLength="17.6" lengthAdjust="spacingAndGlyphs">21.5</text>
<text x="1349.1" y="83.2" font-size="9.8" font-weight="400" fill="#2a2e39" textLength="30.6" lengthAdjust="spacingAndGlyphs" text-anchor="start">7,800.0</text>
<text x="1349.1" y="119.4" font-size="9.8" font-weight="400" fill="#2a2e39" textLength="30.6" lengthAdjust="spacingAndGlyphs" text-anchor="start">7,700.0</text>
<text x="1349.1" y="155.6" font-size="9.8" font-weight="400" fill="#2a2e39" textLength="30.6" lengthAdjust="spacingAndGlyphs" text-anchor="start">7,600.0</text>
<text x="1349.1" y="191.9" font-size="9.8" font-weight="400" fill="#2a2e39" textLength="30.6" lengthAdjust="spacingAndGlyphs" text-anchor="start">7,500.0</text>
<text x="1349.1" y="228.1" font-size="9.8" font-weight="400" fill="#2a2e39" textLength="30.6" lengthAdjust="spacingAndGlyphs" text-anchor="start">7,400.0</text>
<text x="1349.1" y="264.3" font-size="9.8" font-weight="400" fill="#2a2e39" textLength="30.6" lengthAdjust="spacingAndGlyphs" text-anchor="start">7,300.0</text>
<text x="1349.1" y="300.5" font-size="9.8" font-weight="400" fill="#2a2e39" textLength="30.6" lengthAdjust="spacingAndGlyphs" text-anchor="start">7,200.0</text>
<text x="1349.1" y="337.2" font-size="9.8" font-weight="400" fill="#2a2e39" textLength="30.6" lengthAdjust="spacingAndGlyphs" text-anchor="start">7,100.0</text>
<text x="1349.1" y="373.2" font-size="9.8" font-weight="400" fill="#2a2e39" textLength="30.6" lengthAdjust="spacingAndGlyphs" text-anchor="start">7,000.0</text>
<text x="1349.1" y="409.8" font-size="9.8" font-weight="400" fill="#2a2e39" textLength="30.6" lengthAdjust="spacingAndGlyphs" text-anchor="start">6,900.0</text>
<text x="1349.1" y="446.2" font-size="9.8" font-weight="400" fill="#2a2e39" textLength="30.6" lengthAdjust="spacingAndGlyphs" text-anchor="start">6,800.0</text>
<text x="1349.1" y="482.4" font-size="9.8" font-weight="400" fill="#2a2e39" textLength="30.6" lengthAdjust="spacingAndGlyphs" text-anchor="start">6,700.0</text>
<text x="1348.9" y="526.8" font-size="9.8" font-weight="400" fill="#2a2e39" textLength="18.2" lengthAdjust="spacingAndGlyphs" text-anchor="start">60.0</text>
<text x="1348.9" y="567.9" font-size="9.8" font-weight="400" fill="#2a2e39" textLength="18.2" lengthAdjust="spacingAndGlyphs" text-anchor="start">40.0</text>
<rect x="1345" y="23.4" width="44.2" height="20" rx="4" fill="#fff" stroke="#ededf0" stroke-width="1"/>
<text x="1352.0" y="37.5" font-size="9.8" font-weight="400" fill="#2a2e39" textLength="15.6" lengthAdjust="spacingAndGlyphs" text-anchor="start">USD</text>
<path d="M1353.9,47.9 L1355.2,47.1" stroke="#8a8d96" stroke-width="0.8" fill="none"/>
<text x="54.4" y="645.1" font-size="10" font-weight="400" fill="#2a2e39" text-anchor="middle" textLength="9.3" lengthAdjust="spacingAndGlyphs">26</text>
<text x="123.0" y="645.1" font-size="10" font-weight="400" fill="#2a2e39" text-anchor="middle" textLength="9.3" lengthAdjust="spacingAndGlyphs">27</text>
<text x="191.6" y="645.1" font-size="10" font-weight="400" fill="#2a2e39" text-anchor="middle" textLength="9.3" lengthAdjust="spacingAndGlyphs">28</text>
<text x="260.2" y="645.1" font-size="10" font-weight="400" fill="#2a2e39" text-anchor="middle" textLength="9.3" lengthAdjust="spacingAndGlyphs">29</text>
<text x="328.8" y="645.1" font-size="10" font-weight="400" fill="#2a2e39" text-anchor="middle" textLength="9.3" lengthAdjust="spacingAndGlyphs">30</text>
<text x="397.2" y="645.1" font-size="10" font-weight="400" fill="#2a2e39" text-anchor="middle" textLength="9.3" lengthAdjust="spacingAndGlyphs">31</text>
<text x="466.2" y="645.1" font-size="10" font-weight="700" fill="#2a2e39" text-anchor="middle" textLength="16.0" lengthAdjust="spacingAndGlyphs">Jun</text>
<text x="534.8" y="645.1" font-size="10" font-weight="400" fill="#2a2e39" text-anchor="middle" textLength="4.6" lengthAdjust="spacingAndGlyphs">2</text>
<text x="603.2" y="645.1" font-size="10" font-weight="400" fill="#2a2e39" text-anchor="middle" textLength="4.6" lengthAdjust="spacingAndGlyphs">3</text>
<text x="672.0" y="645.1" font-size="10" font-weight="400" fill="#2a2e39" text-anchor="middle" textLength="4.6" lengthAdjust="spacingAndGlyphs">4</text>
<text x="740.8" y="645.1" font-size="10" font-weight="400" fill="#2a2e39" text-anchor="middle" textLength="4.6" lengthAdjust="spacingAndGlyphs">5</text>
<text x="809.2" y="645.1" font-size="10" font-weight="400" fill="#2a2e39" text-anchor="middle" textLength="4.6" lengthAdjust="spacingAndGlyphs">6</text>
<text x="877.8" y="645.1" font-size="10" font-weight="400" fill="#2a2e39" text-anchor="middle" textLength="4.6" lengthAdjust="spacingAndGlyphs">7</text>
<text x="946.4" y="645.1" font-size="10" font-weight="400" fill="#2a2e39" text-anchor="middle" textLength="4.6" lengthAdjust="spacingAndGlyphs">8</text>
<text x="1015.2" y="645.1" font-size="10" font-weight="400" fill="#2a2e39" text-anchor="middle" textLength="4.6" lengthAdjust="spacingAndGlyphs">9</text>
<text x="1084.0" y="645.1" font-size="10" font-weight="400" fill="#2a2e39" text-anchor="middle" textLength="9.3" lengthAdjust="spacingAndGlyphs">10</text>
<text x="1152.5" y="645.1" font-size="10" font-weight="400" fill="#2a2e39" text-anchor="middle" textLength="9.3" lengthAdjust="spacingAndGlyphs">11</text>
<text x="1221.0" y="645.1" font-size="10" font-weight="400" fill="#2a2e39" text-anchor="middle" textLength="9.3" lengthAdjust="spacingAndGlyphs">12</text>
<text x="1289.7" y="645.1" font-size="10" font-weight="400" fill="#2a2e39" text-anchor="middle" textLength="9.3" lengthAdjust="spacingAndGlyphs">13</text>
<text x="8.1" y="14.35" font-size="9.7" fill="#1e222d" textLength="277.5" lengthAdjust="spacingAndGlyphs">Zain_Vawda published on TradingView.com, Mar 18, 2025 04:42 UTC</text>
<text x="13.9" y="35.2" font-size="9.5" fill="#2a2e39" textLength="219.7" lengthAdjust="spacingAndGlyphs">Order Block Detector [LuxAlgo] (5, 3, 3, ——, 1, Wick)</text>
<text x="13.9" y="503.9" font-size="9.6" fill="#3c3f49" textLength="130.4" lengthAdjust="spacingAndGlyphs">RSI Div - Lib (14, 70, 30, 50, 90)</text>
<text x="150.3" y="503.9" font-size="9.6" fill="#60636d" textLength="16.9" lengthAdjust="spacingAndGlyphs">46.7</text>
<g fill="#1e222d">
<path d="M7.5,661.8 H13.6 V668.9 H10.7 V664.4 H7.5 Z"/>
<circle cx="14.9" cy="663" r="1.15"/>
<path d="M17.0,661.8 H22.3 L19.4,668.9 H15.9 Z"/>
</g>
<text x="25.2" y="668.9" font-size="9.9" fill="#1e222d" stroke="#1e222d" stroke-width="0.2" textLength="53.8" lengthAdjust="spacingAndGlyphs">TradingView</text>
</svg></body></html>
